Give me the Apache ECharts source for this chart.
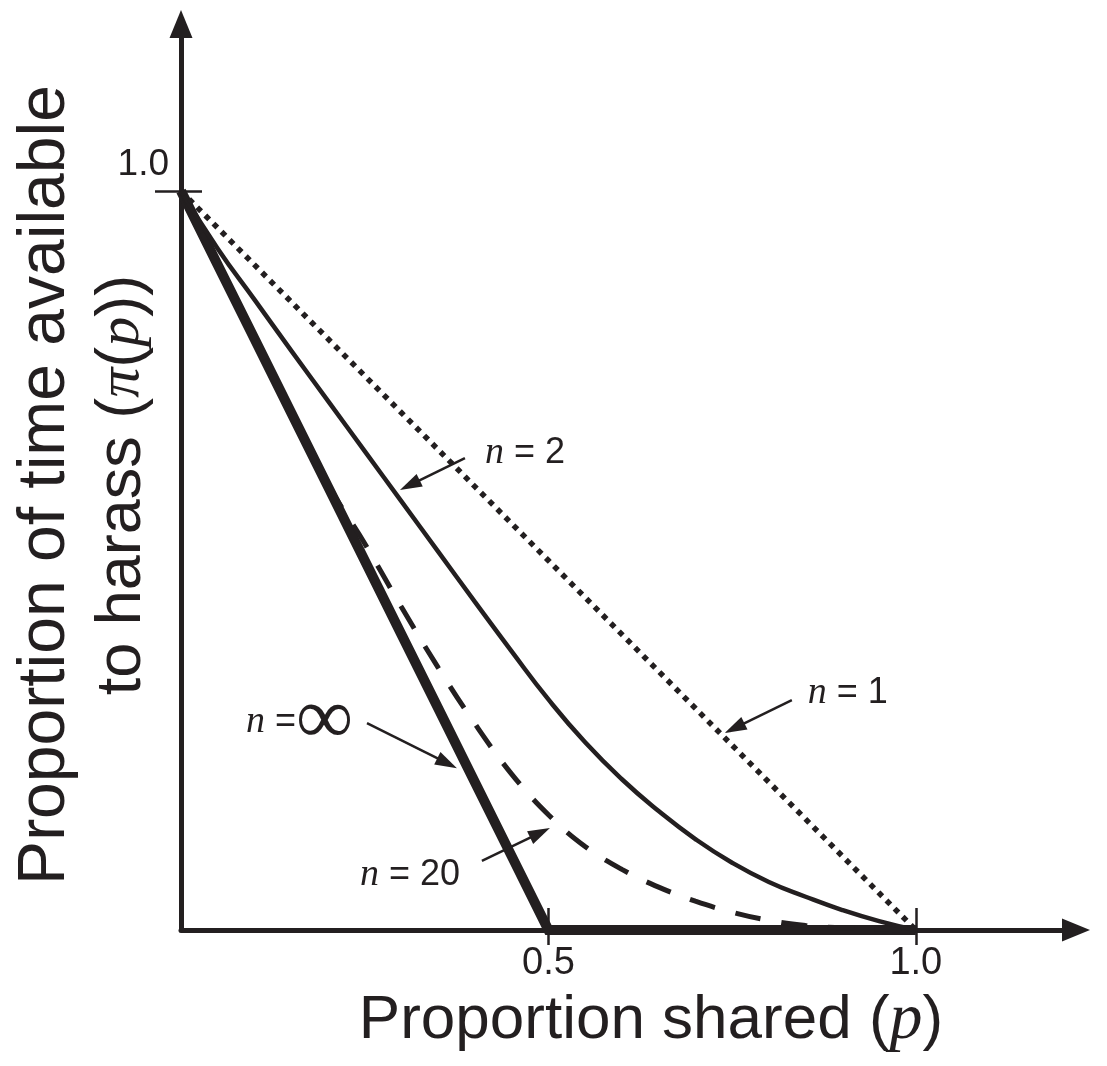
<!DOCTYPE html>
<html><head><meta charset="utf-8">
<script src="https://cdn.jsdelivr.net/npm/echarts@6/dist/echarts.min.js"></script>
<style>html,body{margin:0;padding:0;background:#fff}#c{width:1107px;height:1066px}</style>
</head><body><div id="c"></div>
<script>
// ---- data ----
const pShared = [0,0.05,0.1,0.15,0.2,0.25,0.3,0.35,0.4,0.45,0.5,0.55,0.6,0.65,0.7,0.75,0.8,0.85,0.9,0.95,1.0];
const piN1   = [1,0.95,0.9,0.85,0.8,0.75,0.7,0.65,0.6,0.55,0.5,0.45,0.4,0.35,0.3,0.25,0.2,0.15,0.1,0.05,0];
const piN2   = [1,0.922,0.853,0.784,0.716,0.648,0.58,0.512,0.444,0.377,0.312,0.254,0.204,0.161,0.123,0.091,0.065,0.045,0.027,0.012,0];
const piN20  = [1,0.9,0.8,0.7,0.603,0.523,0.437,0.355,0.279,0.211,0.156,0.113,0.082,0.058,0.039,0.024,0.013,0.006,0.003,0.001,0];
const piNInf = [1,0.9,0.8,0.7,0.6,0.5,0.4,0.3,0.2,0.1,0,0,0,0,0,0,0,0,0,0,0];
const xTickValues = [0.5, 1.0];
const yTickValues = [1.0];
const xAxisTitle = 'Proportion shared ({i|p})';
const yAxisTitle = 'Proportion of time available\n{s|to harass (}{i|π}{s|(}{i|p}{s|))}';

const INK = '#231f20';
const SANS = 'Liberation Sans';
const SERIF = 'Liberation Serif';
const zip = (xs, ys) => xs.map((x, i) => [x, ys[i]]);

const labelRich = {
  i: {fontFamily: SERIF, fontStyle: 'italic', fontSize: 38, color: INK},
  t: {fontFamily: SANS, fontSize: 36, color: INK},
  inf: {fontFamily: SERIF, fontSize: 80, color: INK}
};
function annot(coord, text, pos) {
  return {coord: coord, symbol: 'circle', symbolSize: 0,
    label: {show: true, position: pos, distance: 0, formatter: text, rich: labelRich}};
}
function arrow(from, to) {
  return [{coord: from, symbol: 'none'}, {coord: to, symbol: 'triangle', symbolSize: [14, 22]}];
}
const markLineBase = {silent: true, animation: false, label: {show: false},
  emphasis: {disabled: true}, lineStyle: {color: INK, width: 2.5, type: 'solid'}};
const markPointBase = {silent: true, animation: false, itemStyle: {color: 'rgba(0,0,0,0)'}};

const chart = echarts.init(document.getElementById('c'), null, {renderer: 'canvas'});
chart.setOption({
  animation: false,
  backgroundColor: '#fff',
  grid: {left: 181, right: 31, top: 24, bottom: 136, containLabel: false, outerBoundsMode: 'none'},
  xAxis: [{
    type: 'value', min: 0, max: 1.218, position: 'bottom',
    splitLine: {show: false},
    axisLine: {show: true, onZero: false, symbol: ['none', 'triangle'], symbolSize: [23, 28],
      lineStyle: {color: INK, width: 5}},
    axisTick: {show: true, customValues: xTickValues, inside: false, length: 15, lineStyle: {color: INK, width: 2.5}},
    axisLabel: {show: true, customValues: xTickValues, formatter: v => v.toFixed(1),
      fontFamily: SANS, fontSize: 38, lineHeight: 38, color: INK, margin: 15},
    name: xAxisTitle, nameLocation: 'middle', nameGap: 60, nameMoveOverlap: false,
    nameTextStyle: {fontFamily: SANS, fontSize: 62, lineHeight: 62, color: INK, padding: [0, 0, 0, 45],
      rich: {i: {fontFamily: SERIF, fontStyle: 'italic', fontSize: 66, lineHeight: 62, color: INK}}}
  }, {
    type: 'value', min: 0, max: 1.218, position: 'bottom',
    splitLine: {show: false}, axisLine: {show: false, onZero: false},
    axisTick: {show: true, customValues: xTickValues, inside: true, length: 22, lineStyle: {color: INK, width: 2.5}},
    axisLabel: {show: false}
  }],
  yAxis: [{
    type: 'value', min: 0, max: 1.226, position: 'left',
    splitLine: {show: false},
    axisLine: {show: true, onZero: false, symbol: ['none', 'triangle'], symbolSize: [23, 28],
      lineStyle: {color: INK, width: 5}},
    axisTick: {show: true, customValues: yTickValues, inside: false, length: 26, lineStyle: {color: INK, width: 2.5}},
    axisLabel: {show: true, customValues: yTickValues, formatter: v => v.toFixed(1),
      fontFamily: SANS, fontSize: 37, lineHeight: 37, color: INK, margin: 12,
      verticalAlign: 'bottom', padding: [0, 0, 8, 0]},
    name: yAxisTitle, nameLocation: 'middle', nameRotate: 90, nameGap: 20, nameMoveOverlap: false,
    nameTextStyle: {fontFamily: SANS, fontSize: 66, lineHeight: 77, color: INK, padding: [0, 16, 0, 0],
      rich: {
        s: {fontFamily: SANS, fontSize: 63, lineHeight: 77, color: INK},
        i: {fontFamily: SERIF, fontStyle: 'italic', fontSize: 60, lineHeight: 77, color: INK}
      }}
  }, {
    type: 'value', min: 0, max: 1.226, position: 'left',
    splitLine: {show: false}, axisLine: {show: false, onZero: false},
    axisTick: {show: true, customValues: yTickValues, inside: true, length: 21, lineStyle: {color: INK, width: 2.5}},
    axisLabel: {show: false}
  }],
  series: [{
    name: 'n = ∞', type: 'line', data: zip(pShared, piNInf), showSymbol: false, z: 3,
    silent: true, emphasis: {disabled: true},
    lineStyle: {color: INK, width: 10, join: 'miter', cap: 'butt'},
    markLine: Object.assign({}, markLineBase, {data: [arrow([0.2531, 0.2801], [0.3622, 0.2257])]}),
    markPoint: Object.assign({}, markPointBase, {data: [annot([0.234, 0.2815], '{i|n}{t| =}{inf|∞}', 'left')]})
  }, {
    name: 'n = 20', type: 'line', data: zip(pShared, piN20), showSymbol: false, z: 4,
    smooth: 0.4, silent: true, emphasis: {disabled: true},
    lineStyle: {color: INK, width: 5, type: [26, 21], cap: 'butt'},
    markLine: Object.assign({}, markLineBase, {data: [arrow([0.4095, 0.0934], [0.4886, 0.1315])]}),
    markPoint: Object.assign({}, markPointBase, {data: [annot([0.2435, 0.0740], '{i|n}{t| = 20}', 'right')]})
  }, {
    name: 'n = 2', type: 'line', data: zip(pShared, piN2), showSymbol: false, z: 4,
    smooth: 0.5, silent: true, emphasis: {disabled: true},
    lineStyle: {color: INK, width: 4.5},
    markLine: Object.assign({}, markLineBase, {data: [arrow([0.3864, 0.6387], [0.3114, 0.6020])]}),
    markPoint: Object.assign({}, markPointBase, {data: [annot([0.4136, 0.6455], '{i|n}{t| = 2}', 'right')]})
  }, {
    name: 'n = 1', type: 'line', data: zip(pShared, piN1), showSymbol: false, z: 4,
    silent: true, emphasis: {disabled: true},
    lineStyle: {color: INK, width: 5.5, type: [5.5, 6], cap: 'butt'},
    markLine: Object.assign({}, markLineBase, {data: [arrow([0.8313, 0.3112], [0.7533, 0.2731])]}),
    markPoint: Object.assign({}, markPointBase, {data: [annot([0.853, 0.3207], '{i|n}{t| = 1}', 'right')]})
  }]
});
</script></body></html>
